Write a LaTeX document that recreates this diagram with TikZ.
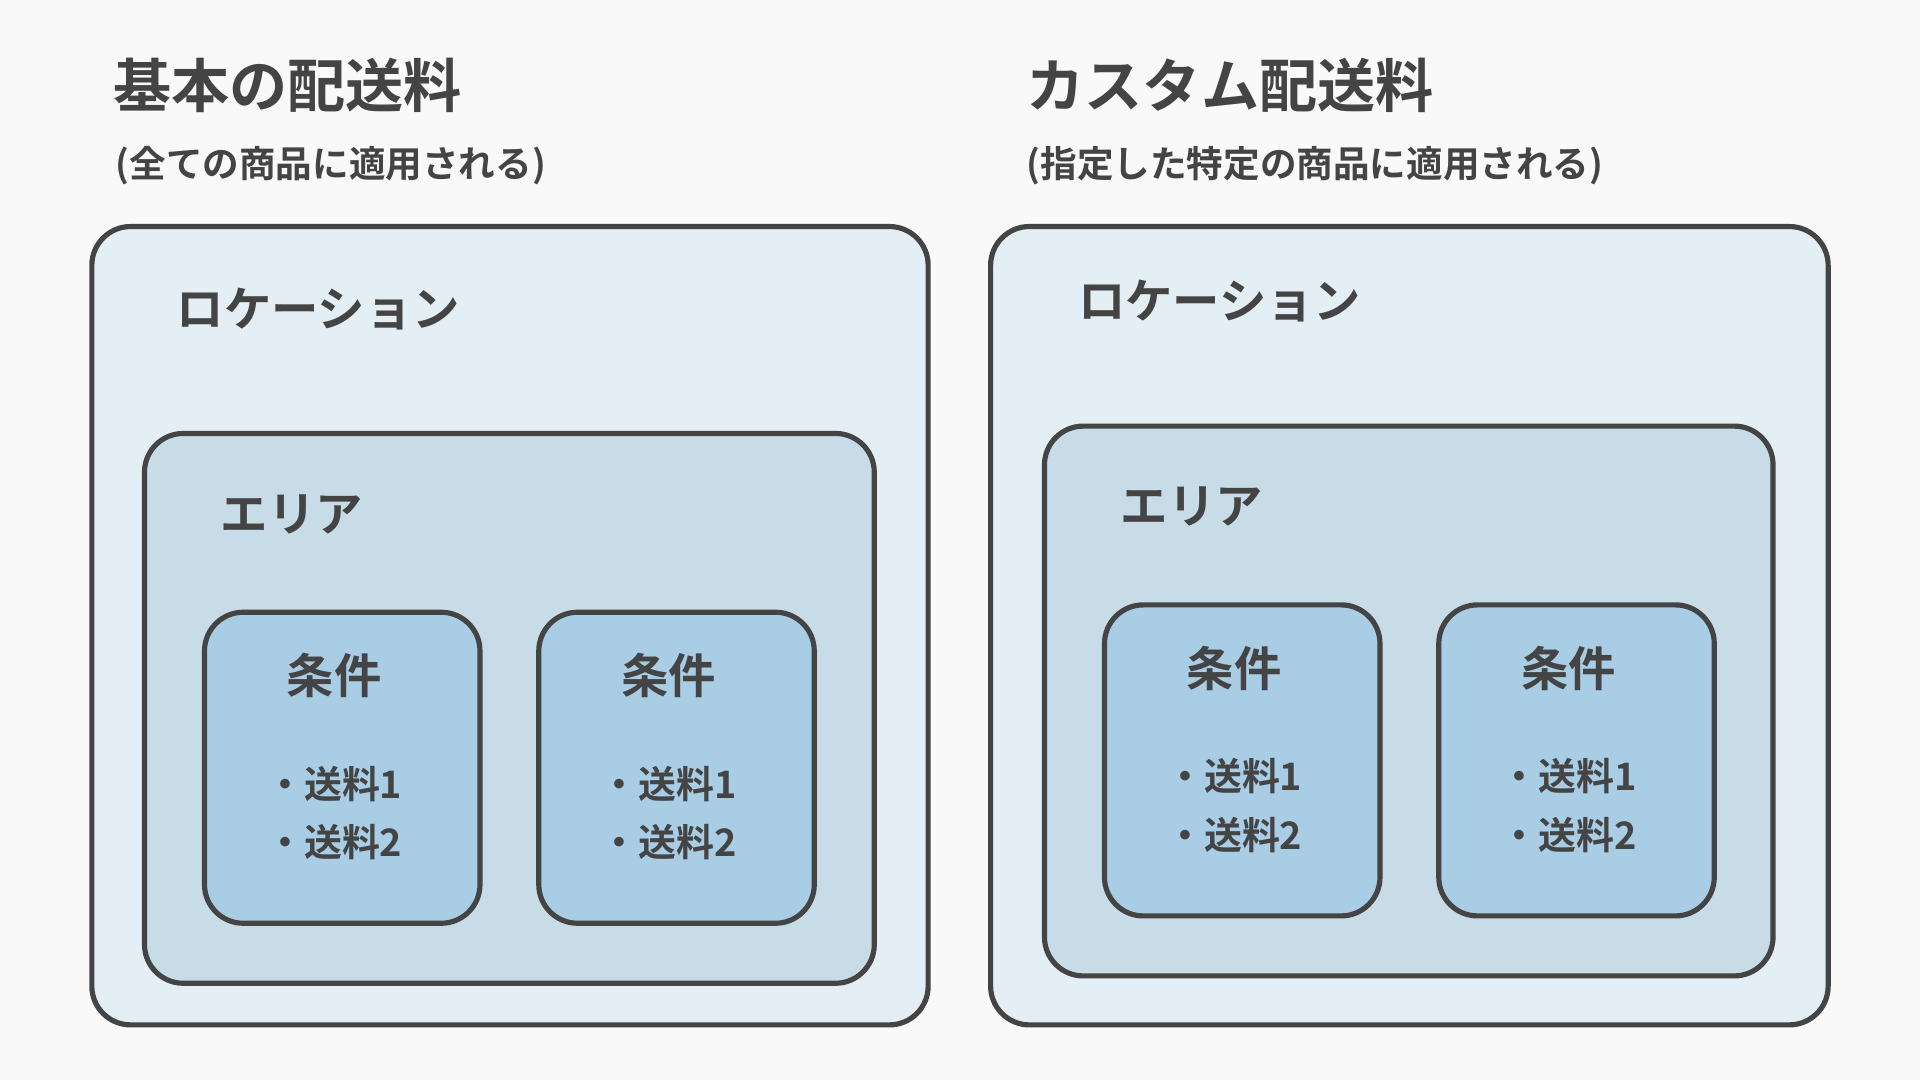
\documentclass[tikz,border=0pt]{standalone}
\usepackage{fontspec}
\newfontfamily\jpb{Noto Sans CJK JP Bold}
\usetikzlibrary{positioning}
\definecolor{bgcol}{HTML}{F9F9F9}
\definecolor{edgecol}{HTML}{444444}
\definecolor{loccol}{HTML}{E3EEF5}
\definecolor{areacol}{HTML}{C8DCE7}
\definecolor{condcol}{HTML}{A8CDE4}
\tikzset{
  box/.style = {draw=edgecol, line width=1.2pt, rounded corners=9pt},
  title/.style = {anchor=west, text=edgecol, font=\jpb\fontsize{13.5pt}{15pt}\selectfont},
  sub/.style = {anchor=west, text=edgecol, font=\jpb\fontsize{8.5pt}{10pt}\selectfont},
  head/.style = {anchor=west, text=edgecol, font=\jpb\fontsize{11pt}{13pt}\selectfont},
  item/.style = {anchor=west, text=edgecol, font=\jpb\fontsize{8.8pt}{10pt}\selectfont},
}
\begin{document}
\begin{tikzpicture}[x=0.01cm, y=-0.01cm]
\fill[bgcol] (0,0) rectangle (1568,882);
\useasboundingbox (0,0) rectangle (1568,882);

\node[title] (t1) at (80,70) {基本の配送料};
\node[sub] (s1) at (82,135) {(全ての商品に適用される)};
\node[title] (t2) at (826,70) {カスタム配送料};
\node[sub] (s2) at (826,135) {(指定した特定の商品に適用される)};

% left
\draw[box, fill=loccol] (75,185) rectangle (758,837);
\node[head] (loc1) at (132,252) {ロケーション};
\draw[box, fill=areacol] (118,354) rectangle (714,803);
\node[head] (area1) at (168,420) {エリア};
% right
\draw[box, fill=loccol] (809,185) rectangle (1493,837);
\node[head] (loc2) at (868,246) {ロケーション};
\draw[box, fill=areacol] (853,348) rectangle (1448,797);
\node[head] (area2) at (903,414) {エリア};

\foreach \x/\y [count=\i] in {167/500, 440/500, 902/494, 1175/494} {
  \draw[box, fill=condcol] (\x,\y) rectangle ++(225,254);
  \node[head, anchor=center] (cond\i) at (\x+106,\y+52) {条件};
  \node[item] (fa\i) at (\x+38,\y+140) {・送料1};
  \node[item] (fb\i) at (\x+38,\y+188) {・送料2};
}
\end{tikzpicture}
\end{document}
